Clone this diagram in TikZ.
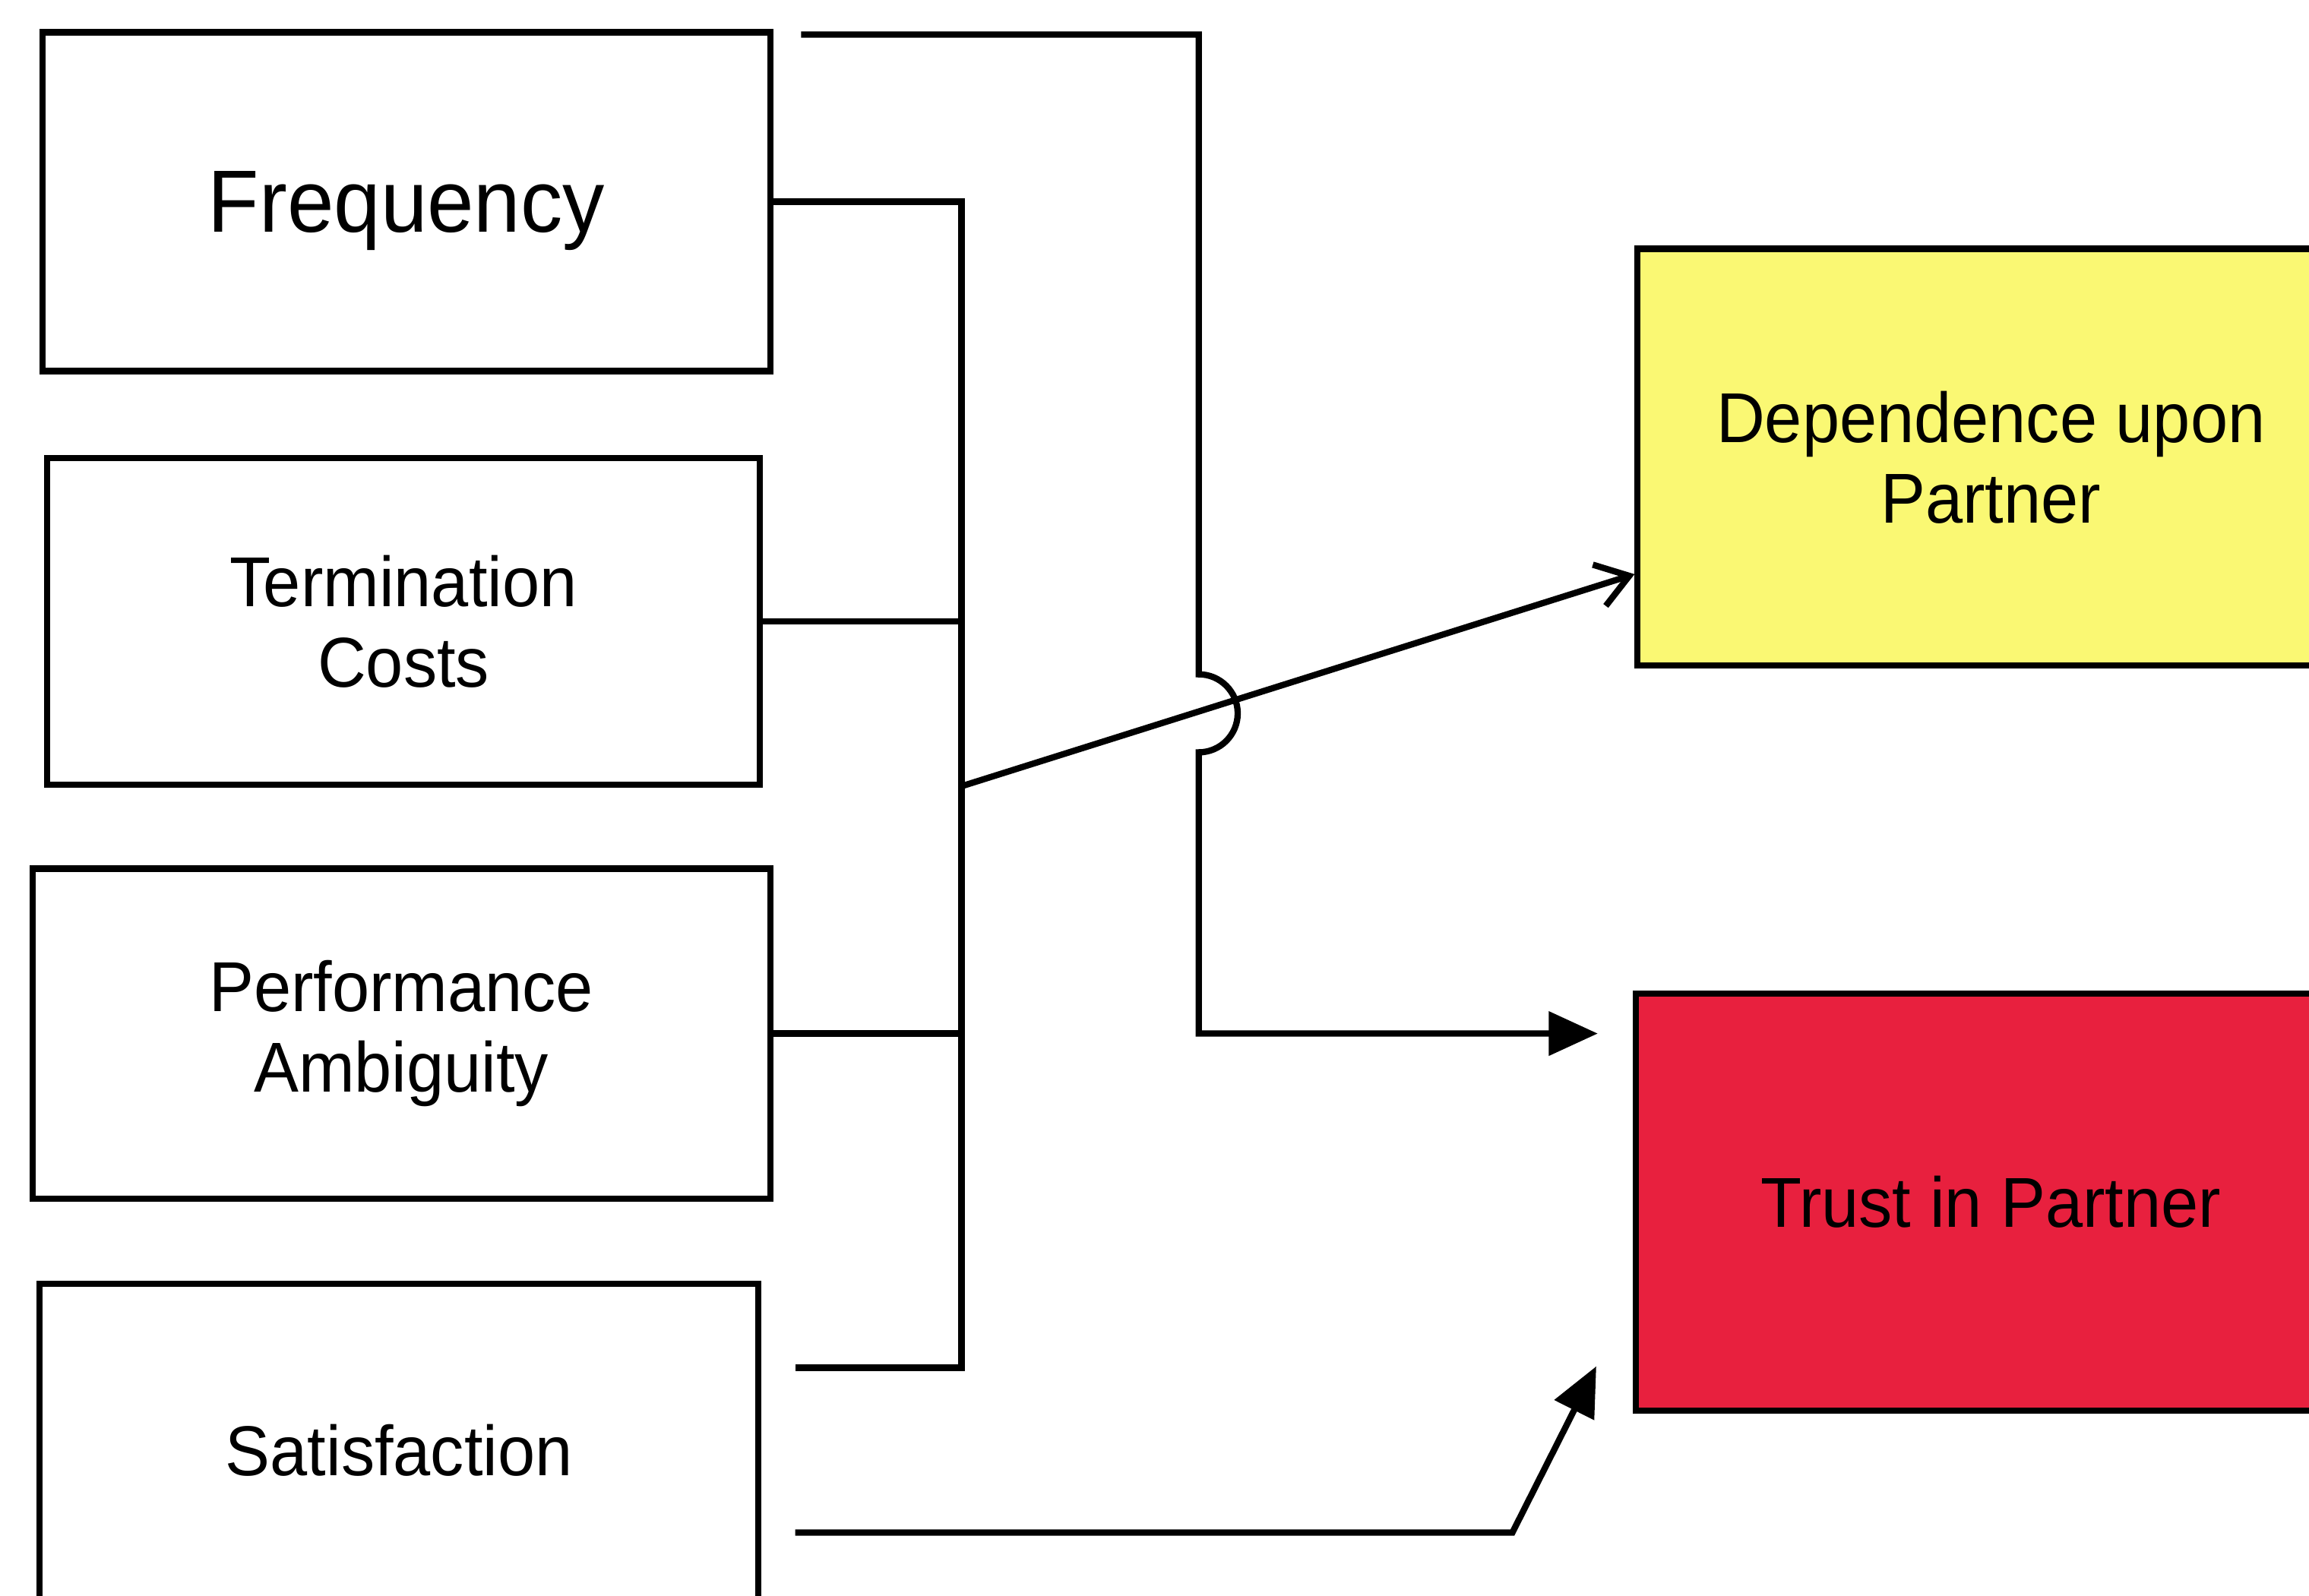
\documentclass[tikz,border=0pt]{standalone}
\usepackage{fontspec}
\setmainfont{Liberation Sans}[FakeStretch=0.95]
\usetikzlibrary{arrows.meta}

\definecolor{depyellow}{RGB}{250,248,115}
\definecolor{trustred}{RGB}{232,32,62}

\tikzset{every picture/.style={line width=3.2pt}}
\tikzset{
  factor/.style={draw, rectangle, align=center, inner sep=0pt,
    font=\fontsize{36}{41}\selectfont},
  link/.style={draw, line join=miter},
  solid head/.style={-{Triangle[length=25pt,width=22pt]}},
  open head/.style={-{Straight Barb[length=16pt,width=22pt]}},
}

\begin{document}
\begin{tikzpicture}[x=0.75pt,y=0.75pt,yscale=-1,xscale=1]
\clip (0,0) rectangle (1568,1084);

%Shape: Rectangle [id:freq]
\node[factor, minimum width=370.5pt, minimum height=172.5pt, text depth=0pt,
  font=\fontsize{45}{50}\selectfont] (freq) at (276,137) {Frequency};
%Shape: Rectangle [id:term]
\node[factor, minimum width=363pt, minimum height=166.5pt] (term) at (274,422) {Termination\\Costs};
%Shape: Rectangle [id:perf]
\node[factor, minimum width=375.75pt, minimum height=168pt] (perf) at (272.5,702) {Performance\\Ambiguity};
%Shape: Rectangle [id:satis]
\node[factor, minimum width=366pt, minimum height=169.5pt] (satis) at (271,985) {Satisfaction};

%Shape: Rectangle [id:dep]
\node[factor, fill=depyellow, minimum width=360pt, minimum height=212.25pt] (dep) at (1352,310.5) {Dependence upon\\Partner};
%Shape: Rectangle [id:trust]
\node[factor, fill=trustred, minimum width=361.5pt, minimum height=212.25pt] (trust) at (1352,816.5) {Trust in Partner};

%free ends and bends
\coordinate (bustop) at (653,137);
\coordinate (busbot) at (653,929);
\coordinate (stub) at (540,929);
\coordinate (fork) at (653,534);
\coordinate (deptip) at (1110,390);
\coordinate (loopstart) at (544,23.5);
\coordinate (hopin) at (814,458);
\coordinate (trusttip) at (1085,702);
\coordinate (satout) at (540,1041);
\coordinate (satbend) at (1027,1041);
\coordinate (sattip) at (1084,928);

%Straight Lines [id:bus]
\draw[link] (freq.east) -- (bustop) -- (busbot) -- (stub);
%Straight Lines [id:termlink]
\draw[link] (term.east) -- (term.east -| bustop);
%Straight Lines [id:perflink]
\draw[link] (perf.east) -- (perf.east -| bustop);
%Straight Lines [id:todep]
\draw[link, open head] (fork) -- (deptip);
%Straight Lines [id:totrust]
\draw[link, solid head] (loopstart) -| (hopin)
  arc[start angle=-90, end angle=90, radius=26.5] -- (hopin |- trusttip) -- (trusttip);
%Straight Lines [id:satlink]
\draw[link, solid head] (satout) -- (satbend) -- (sattip);
\end{tikzpicture}
\end{document}
